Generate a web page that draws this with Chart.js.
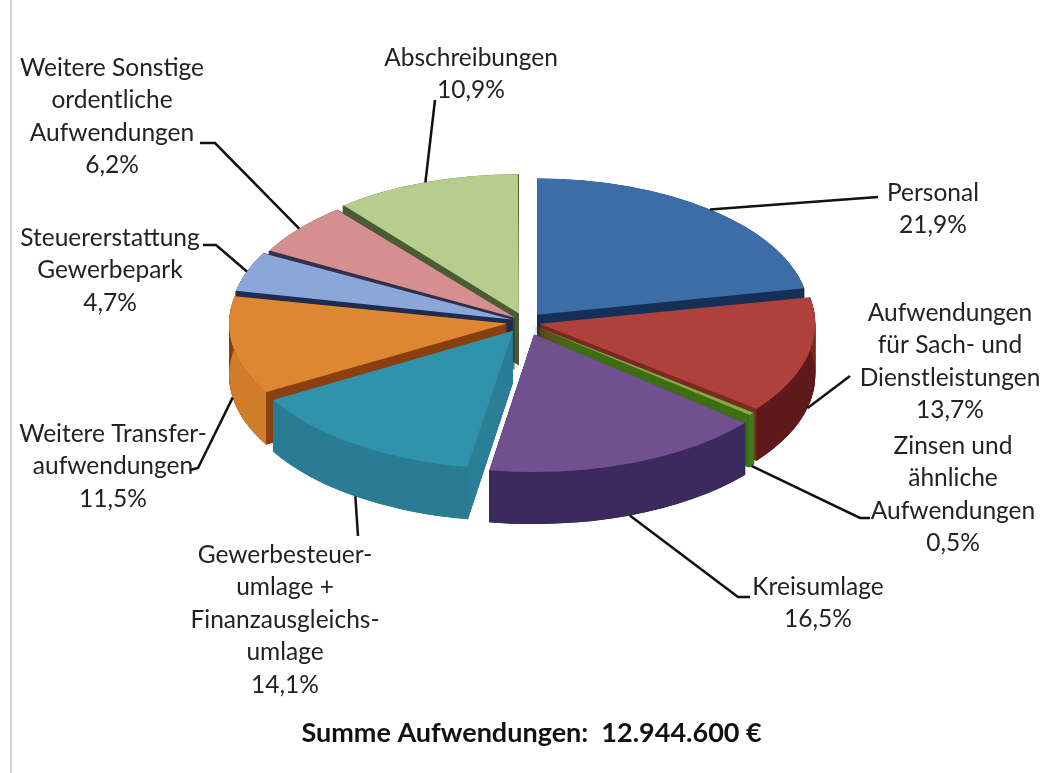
<!DOCTYPE html>
<html>
<head>
<meta charset="utf-8">
<title>Aufwendungen</title>
<script src="https://cdn.jsdelivr.net/npm/chart.js@4/dist/chart.umd.min.js"></script>
<style>
html, body { margin: 0; padding: 0; background: #fff; }
#wrap { position: relative; width: 1057px; height: 773px; overflow: hidden; }
#edge { position: absolute; left: 10px; top: 0; width: 2px; height: 773px; background: #d0d0d0; }
#chart { position: absolute; left: 0; top: 0; }
</style>
</head>
<body>
<div id="wrap">
	<div id="edge"></div>
	<canvas id="chart" width="1057" height="773"></canvas>
</div>
<script>
var categories = ["Personal", "Aufwendungen für Sach- und Dienstleistungen", "Zinsen und ähnliche Aufwendungen", "Kreisumlage", "Gewerbesteuerumlage + Finanzausgleichsumlage", "Weitere Transferaufwendungen", "Steuererstattung Gewerbepark", "Weitere Sonstige ordentliche Aufwendungen", "Abschreibungen"];
var values = [21.9, 13.7, 0.5, 16.5, 14.1, 11.5, 4.7, 6.2, 10.9];
var titleText = "\u00a0\u00a0Summe Aufwendungen:  12.944.600 €";

var labelLines = [
	["Personal"],
	["Aufwendungen", "für Sach- und", "Dienstleistungen"],
	["Zinsen und", "ähnliche", "Aufwendungen"],
	["Kreisumlage"],
	["Gewerbesteuer-", "umlage +", "Finanzausgleichs-", "umlage"],
	["Weitere Transfer-", "aufwendungen"],
	["Steuererstattung", "Gewerbepark"],
	["Weitere Sonstige", "ordentliche", "Aufwendungen"],
	["Abschreibungen"]
];

// colours: top face, outer wall, inner wall
var topColors = ["#3c6da8", "#b0403c", "#8aa84a", "#70508f", "#2f93ab", "#de8632", "#8ba7d9", "#d58f8f", "#b5cd8d"];
var wallColors = ["#143057", "#5e1a1a", "#3d7a1a", "#3c2a5c", "#2a7c94", "#cf7d2b", "#1f2e52", "#33304a", "#4b5c35"];
var innerColors = ["#143057", "#7a2a20", "#3f6f15", "#3c2a5c", "#2a7f96", "#8a4010", "#1f2e52", "#33304a", "#4b5c35"];

// layout
var explode = [19, 15, 10, 26, 21, 18, 14, 13, 18];
var labelX = [933, 950, 953, 818, 285, 113, 110, 112, 471];
var labelY = [193, 313, 446, 587, 555, 434, 238, 68, 58];
var leaderEnds = [
	[[878, 197]],
	[[850, 376]],
	[[860, 518], [870, 518]],
	[[738, 597], [750, 597]],
	[[358, 536]],
	[[198, 468], [190, 470]],
	[[216, 245], [203, 245]],
	[[215, 143], [200, 143]],
	[[435, 100]]
];
var squash = 0.5;
var wallDepth = 52;
var lineStep = 32.5;

function formatPercent(v) {
	return v.toFixed(1).replace(".", ",") + "%";
}

// same geometry the arc element uses when it draws itself
function sliceShape(arc) {
	var p = arc.getProps(["x", "y", "startAngle", "endAngle", "outerRadius", "circumference"]);
	var off = (arc.options.offset || 0) / 4;
	var half = (p.startAngle + p.endAngle) / 2;
	var fix = 1 - Math.sin(Math.min(Math.PI, p.circumference));
	return {
		cx: p.x + Math.cos(half) * off,
		cy: p.y + Math.sin(half) * off,
		r: p.outerRadius + off * fix,
		start: p.startAngle,
		end: p.endAngle,
		half: half
	};
}

var pie3d = {
	id: "pie3d",
	beforeDatasetsDraw: function(chart) {
		var ctx = chart.ctx;
		var arcs = chart.getDatasetMeta(0).data;
		var centerY = arcs[0].y;
		var depth = wallDepth / squash;

		ctx.save();
		ctx.translate(0, centerY);
		ctx.scale(1, squash);
		ctx.translate(0, -centerY);

		// back slices first
		var order = arcs.map(function(a, i) { return i; });
		order.sort(function(a, b) {
			return Math.sin(sliceShape(arcs[a]).half) - Math.sin(sliceShape(arcs[b]).half);
		});

		order.forEach(function(i) {
			var s = sliceShape(arcs[i]);
			ctx.fillStyle = innerColors[i];
			for (var d = 1; d <= depth; d += 1) {
				ctx.beginPath();
				ctx.moveTo(s.cx, s.cy + d);
				ctx.arc(s.cx, s.cy + d, s.r, s.start, s.end);
				ctx.closePath();
				ctx.fill();
			}
			ctx.fillStyle = wallColors[i];
			ctx.beginPath();
			ctx.arc(s.cx, s.cy, s.r, s.start, s.end);
			ctx.arc(s.cx, s.cy + depth, s.r, s.end, s.start, true);
			ctx.closePath();
			ctx.fill();
		});
	},
	afterDatasetsDraw: function(chart) {
		var ctx = chart.ctx;
		var arcs = chart.getDatasetMeta(0).data;
		var centerY = arcs[0].y;
		ctx.restore();

		ctx.strokeStyle = "#111";
		ctx.lineWidth = 2.5;
		arcs.forEach(function(arc, i) {
			var s = sliceShape(arc);
			var x = s.cx + Math.cos(s.half) * s.r;
			var y = centerY + (s.cy + Math.sin(s.half) * s.r - centerY) * squash;
			if (Math.sin(s.half) > 0) {
				y += wallDepth;
			}
			ctx.beginPath();
			ctx.moveTo(x, y);
			leaderEnds[i].forEach(function(pt) {
				ctx.lineTo(pt[0], pt[1]);
			});
			ctx.stroke();
		});

		ctx.fillStyle = "#222";
		ctx.font = "24.5px Lato";
		ctx.textAlign = "center";
		ctx.textBaseline = "middle";
		labelLines.forEach(function(lines, i) {
			var all = lines.concat([formatPercent(values[i])]);
			all.forEach(function(text, n) {
				ctx.fillText(text, labelX[i], labelY[i] + n * lineStep);
			});
		});
	}
};

new Chart(document.getElementById("chart"), {
	type: "pie",
	data: {
		labels: categories,
		datasets: [{
			data: values,
			backgroundColor: topColors,
			borderWidth: 0,
			offset: explode.map(function(v) { return v * 4; }),
			radius: 272
		}]
	},
	options: {
		responsive: false,
		animation: false,
		events: [],
		layout: { padding: { left: 0, right: 7, top: 0, bottom: 0 } },
		plugins: {
			legend: { display: false },
			tooltip: { enabled: false },
			title: {
				display: true,
				text: titleText,
				position: "bottom",
				color: "#111",
				font: { family: "Lato", size: 27, weight: "bold" },
				padding: { top: 73, bottom: 23.6 }
			}
		}
	},
	plugins: [pie3d]
});
</script>
</body>
</html>
